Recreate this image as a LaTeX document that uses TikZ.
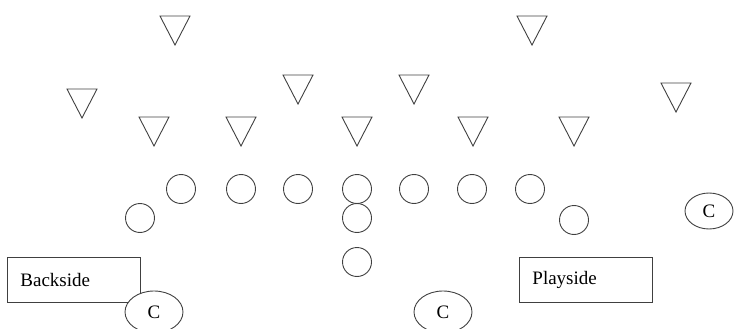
\documentclass[tikz,border=0pt]{standalone}
\usepackage{fontspec}
\setmainfont{Liberation Serif}
\usetikzlibrary{shapes.geometric}

\newcommand*{\fieldw}{734}
\newcommand*{\fieldh}{329}
\newcommand*{\trihalf}{15}
\newcommand*{\trih}{29}

\begin{document}
\begin{tikzpicture}
[
	x=1pt, y=-1pt,
	ink/.style={draw=black!75, line width=0.9pt},
	defender/.style={ink},
	player/.style={ink, circle, inner sep=0pt, minimum size=29pt},
	sidebox/.style={ink, rectangle, anchor=north west, minimum width=133pt, minimum height=45pt,
		text width=107pt, inner xsep=13pt, align=left, font=\fontsize{19}{22}\selectfont},
	cbox/.style={ink, ellipse, fill=white, inner sep=0pt, minimum width=58pt, minimum height=42pt,
		font=\fontsize{19}{22}\selectfont}
]
	\useasboundingbox (0,0) rectangle (\fieldw,\fieldh);

	% defense
	\foreach \tx/\ty [count=\i] in {175/16, 82/89, 154/117, 241/117, 298/75, 357/117,
		532/16, 414/75, 473/117, 574/117, 676/83}
	{
		\coordinate (d\i) at (\tx,\ty);
		\draw[defender] ([xshift=-\trihalf pt]d\i) -- ([xshift=\trihalf pt]d\i) -- ([yshift=-\trih pt]d\i) -- cycle;
	}

	% offense
	\foreach \px/\py [count=\i] in {181/189, 241/189, 298/189, 357/189, 414/189, 472/189, 530/189,
		140/218, 357/218, 574/220, 357/262}
		\node[player] (o\i) at (\px,\py) {};

	% sides
	\node[sidebox] (back) at (7,257) {Backside};
	\node[sidebox] (play) at (519,257) {Playside};

	% C
	\node[cbox] (cback) at (154,312) {C};
	\node[cbox] (cmid) at (443,312) {C};
	\node[cbox, minimum width=48pt, minimum height=36pt] (cplay) at (709,211) {C};

\end{tikzpicture}
\end{document}
